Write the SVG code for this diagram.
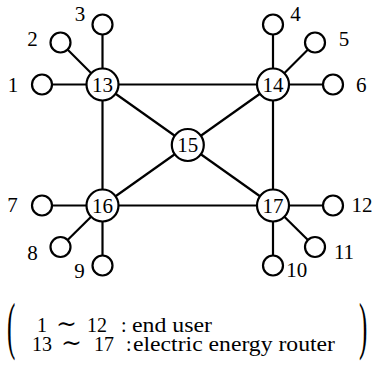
<svg xmlns="http://www.w3.org/2000/svg" width="373" height="365" viewBox="0 0 373 365">
<style>
.e{stroke:#000;stroke-width:2.2;fill:none}
.r{fill:#fff;stroke:#000;stroke-width:2.2}
.u{fill:#fff;stroke:#000;stroke-width:2.2}
text{font-family:"Liberation Serif","Times New Roman","DejaVu Serif",serif;fill:#000}
.n{font-size:21px;text-anchor:middle}
.l{font-size:21px;text-anchor:middle}
.g{font-size:20px}
.t{font-size:25px}
</style>
<rect width="373" height="365" fill="#fff"/>
<g id="connectors">
<line class="e" x1="102.5" y1="84.5" x2="273" y2="84.5"/>
<line class="e" x1="102.5" y1="205.5" x2="273" y2="205.5"/>
<line class="e" x1="102.5" y1="84.5" x2="102.5" y2="205.5"/>
<line class="e" x1="273" y1="84.5" x2="273" y2="205.5"/>
<line class="e" x1="102.5" y1="84.5" x2="187.8" y2="145"/>
<line class="e" x1="273" y1="84.5" x2="187.8" y2="145"/>
<line class="e" x1="102.5" y1="205.5" x2="187.8" y2="145"/>
<line class="e" x1="273" y1="205.5" x2="187.8" y2="145"/>
<line class="e" x1="102.5" y1="84.5" x2="42" y2="84.5"/>
<line class="e" x1="102.5" y1="84.5" x2="60.5" y2="42.5"/>
<line class="e" x1="102.5" y1="84.5" x2="102.5" y2="24.5"/>
<line class="e" x1="273" y1="84.5" x2="273" y2="24.5"/>
<line class="e" x1="273" y1="84.5" x2="315" y2="42.5"/>
<line class="e" x1="273" y1="84.5" x2="333" y2="84.5"/>
<line class="e" x1="102.5" y1="205.5" x2="42" y2="205.5"/>
<line class="e" x1="102.5" y1="205.5" x2="60.5" y2="247"/>
<line class="e" x1="102.5" y1="205.5" x2="102.5" y2="265.5"/>
<line class="e" x1="273" y1="205.5" x2="273" y2="265.5"/>
<line class="e" x1="273" y1="205.5" x2="315" y2="247"/>
<line class="e" x1="273" y1="205.5" x2="333" y2="205.5"/>
</g>
<g id="n13"><circle class="r" cx="102.5" cy="84.5" r="16"/><text class="n" x="102.5" y="91.5">13</text></g>
<g id="n14"><circle class="r" cx="273" cy="84.5" r="16"/><text class="n" x="273" y="91.5">14</text></g>
<g id="n15"><circle class="r" cx="187.8" cy="145" r="16"/><text class="n" x="187.8" y="152">15</text></g>
<g id="n16"><circle class="r" cx="102.5" cy="205.5" r="16"/><text class="n" x="102.5" y="212.5">16</text></g>
<g id="n17"><circle class="r" cx="273" cy="205.5" r="16"/><text class="n" x="273" y="212.5">17</text></g>
<g id="n1"><circle class="u" cx="42" cy="84.5" r="10"/><text class="l" x="13" y="92">1</text></g>
<g id="n2"><circle class="u" cx="60.5" cy="42.5" r="10"/><text class="l" x="32.5" y="46">2</text></g>
<g id="n3"><circle class="u" cx="102.5" cy="24.5" r="10"/><text class="l" x="80" y="21">3</text></g>
<g id="n4"><circle class="u" cx="273" cy="24.5" r="10"/><text class="l" x="295.5" y="21">4</text></g>
<g id="n5"><circle class="u" cx="315" cy="42.5" r="10"/><text class="l" x="344" y="46">5</text></g>
<g id="n6"><circle class="u" cx="333" cy="84.5" r="10"/><text class="l" x="361.3" y="92">6</text></g>
<g id="n7"><circle class="u" cx="42" cy="205.5" r="10"/><text class="l" x="12.5" y="212">7</text></g>
<g id="n8"><circle class="u" cx="60.5" cy="247" r="10"/><text class="l" x="32.5" y="260">8</text></g>
<g id="n9"><circle class="u" cx="102.5" cy="265.5" r="10"/><text class="l" x="79.5" y="278">9</text></g>
<g id="n10"><circle class="u" cx="273" cy="265.5" r="10"/><text class="l" x="296.8" y="277">10</text></g>
<g id="n11"><circle class="u" cx="315" cy="247" r="10"/><text class="l" x="344" y="259">11</text></g>
<g id="n12"><circle class="u" cx="333" cy="205.5" r="10"/><text class="l" x="362" y="212">12</text></g>
<g id="legend">
<text class="g" transform="translate(7,347) scale(1,2.5)" style="font-size:25px">(</text>
<text class="g" transform="translate(359,347) scale(1,2.5)" style="font-size:25px">)</text>
<text class="g"><tspan x="37" y="332">1</tspan><tspan class="t" x="56">∼</tspan><tspan x="87">12</tspan><tspan x="121">:</tspan><tspan x="132" textLength="80" lengthAdjust="spacingAndGlyphs">end user</tspan><tspan x="32" y="351">13</tspan><tspan class="t" x="61">∼</tspan><tspan x="94">17</tspan><tspan x="126">:</tspan><tspan x="133" textLength="202" lengthAdjust="spacingAndGlyphs">electric energy router</tspan></text>
</g>
</svg>
